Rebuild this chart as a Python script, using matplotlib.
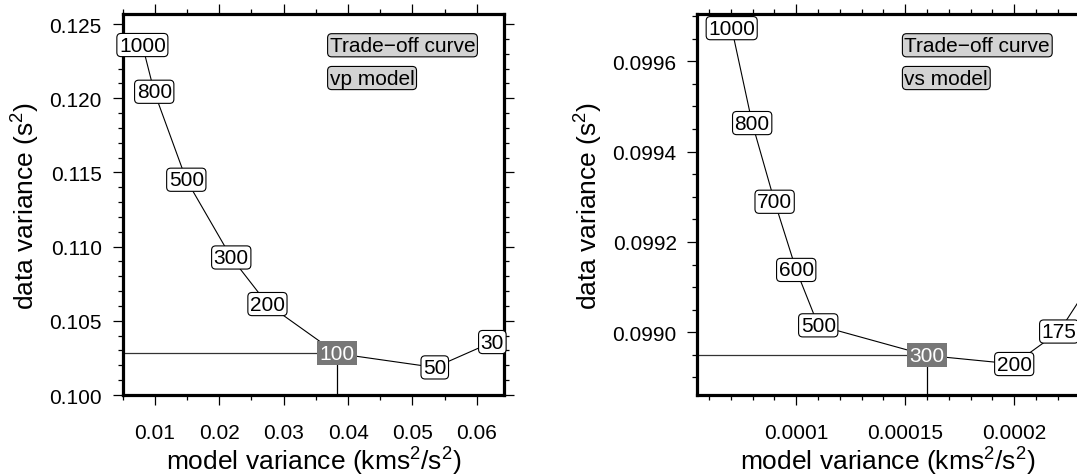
import numpy as np
import matplotlib
matplotlib.use('Agg')
import matplotlib.pyplot as plt
from matplotlib.ticker import MultipleLocator, FormatStrFormatter


#-------------------------------------------------------------#
# Data
#-------------------------------------------------------------#
vp_lambda = [1000, 800, 500, 300, 200, 100, 50, 30]
vp_model_var = [0.00806, 0.0099, 0.01488, 0.02186, 0.02748, 0.03825, 0.05346, 0.0624]
vp_data_var = [0.12359, 0.12044, 0.11451, 0.10927, 0.10613, 0.10280, 0.10186, 0.10357]
vp_best = 100

# last point lies beyond the visible frame (only its line segment shows)
vs_lambda = [1000, 800, 700, 600, 500, 300, 200, 175, 150]
vs_model_var = [0.0000704, 0.0000798, 0.0000901, 0.0001, 0.0001101,
                0.0001601, 0.0002, 0.0002206, 0.0002393]
vs_data_var = [0.0996735, 0.0994633, 0.099289, 0.099138, 0.0990153,
               0.0989486, 0.0989296, 0.0990016, 0.0991406]
vs_best = 300

vp_title = 'vp model'
vs_title = 'vs model'

#-------------------------------------------------------------#
# Style
#-------------------------------------------------------------#
plt.rcParams['font.family'] = ['Liberation Sans', 'DejaVu Sans']
plt.rcParams['mathtext.fontset'] = 'custom'
plt.rcParams['mathtext.rm'] = 'Liberation Sans'
plt.rcParams['mathtext.it'] = 'Liberation Sans'
plt.rcParams['mathtext.default'] = 'regular'

fs_tick = 15
fs_label = 19


def draw_panel(ax, mvar, dvar, lam, best, name, xlim, ylim,
               xmaj, xmin, ymaj, ymin, xfmt, yfmt):
    ax.set_xlim(xlim)
    ax.set_ylim(ylim)

    # curve
    ax.plot(mvar, dvar, color='k', lw=0.8, zorder=2)

    # cross-hair to the chosen point
    i = lam.index(best)
    ax.plot([xlim[0], mvar[i]], [dvar[i], dvar[i]], color='#333333', lw=0.9, zorder=2)
    ax.plot([mvar[i], mvar[i]], [ylim[0], dvar[i]], color='k', lw=0.9, zorder=2)

    # labels on each point
    for x, y, l in zip(mvar, dvar, lam):
        if not (xlim[0] <= x <= xlim[1]):
            continue
        if l == best:
            ax.text(x, y, str(l), ha='center', va='center', fontsize=fs_tick,
                    color='white', zorder=6, clip_on=False,
                    bbox=dict(boxstyle='square,pad=0.12', fc='#777777', ec='none'))
        else:
            ax.text(x, y, str(l), ha='center', va='center', fontsize=fs_tick,
                    color='k', zorder=6, clip_on=False,
                    bbox=dict(boxstyle='round,pad=0.1,rounding_size=0.2',
                              fc='white', ec='k', lw=0.8))

    # legend-like tags
    ax.text(0.543, 0.918, 'Trade\u2212off curve', transform=ax.transAxes,
            ha='left', va='center', fontsize=fs_tick, zorder=6,
            bbox=dict(boxstyle='round,pad=0.1,rounding_size=0.2',
                      fc='#d3d3d3', ec='k', lw=0.8))
    ax.text(0.543, 0.832, name, transform=ax.transAxes,
            ha='left', va='center', fontsize=fs_tick, zorder=6,
            bbox=dict(boxstyle='round,pad=0.1,rounding_size=0.2',
                      fc='#d3d3d3', ec='k', lw=0.8))

    # ticks
    ax.xaxis.set_major_locator(MultipleLocator(xmaj))
    ax.xaxis.set_minor_locator(MultipleLocator(xmin))
    ax.yaxis.set_major_locator(MultipleLocator(ymaj))
    ax.yaxis.set_minor_locator(MultipleLocator(ymin))
    ax.xaxis.set_major_formatter(FormatStrFormatter(xfmt))
    ax.yaxis.set_major_formatter(FormatStrFormatter(yfmt))
    ax.tick_params(which='both', direction='out', top=True, right=True,
                   labeltop=False, labelright=False, width=0.9,
                   labelsize=fs_tick)
    ax.tick_params(which='major', length=7)
    ax.tick_params(which='minor', length=3.8)
    ax.tick_params(axis='x', which='major', pad=13)
    ax.tick_params(axis='y', which='major', pad=8)
    for s in ax.spines.values():
        s.set_linewidth(2.3)
        s.set_zorder(5)

    ax.set_xlabel('model variance (kms$^2$/s$^2$)', fontsize=fs_label, labelpad=2)
    ax.set_ylabel('data variance (s$^2$)', fontsize=fs_label, labelpad=5)


#-------------------------------------------------------------#
# Plotting
#-------------------------------------------------------------#
fig = plt.figure(figsize=(10.77, 4.77), dpi=100)

ax1 = fig.add_axes([0.1139, 0.1698, 0.354, 0.7987])
draw_panel(ax1, vp_model_var, vp_data_var, vp_lambda, vp_best, vp_title,
           (0.005, 0.0642), (0.100, 0.12568),
           0.01, 0.005, 0.005, 0.001, '%g', '%.3f')

ax2 = fig.add_axes([0.6476, 0.1698, 0.354, 0.7987])
draw_panel(ax2, vs_model_var, vs_data_var, vs_lambda, vs_best, vs_title,
           (0.0000547, 0.0002296), (0.098861, 0.0997048),
           0.00005, 0.00001, 0.0002, 0.00005, '%g', '%.4f')

fig.savefig('out.png', dpi=100)
